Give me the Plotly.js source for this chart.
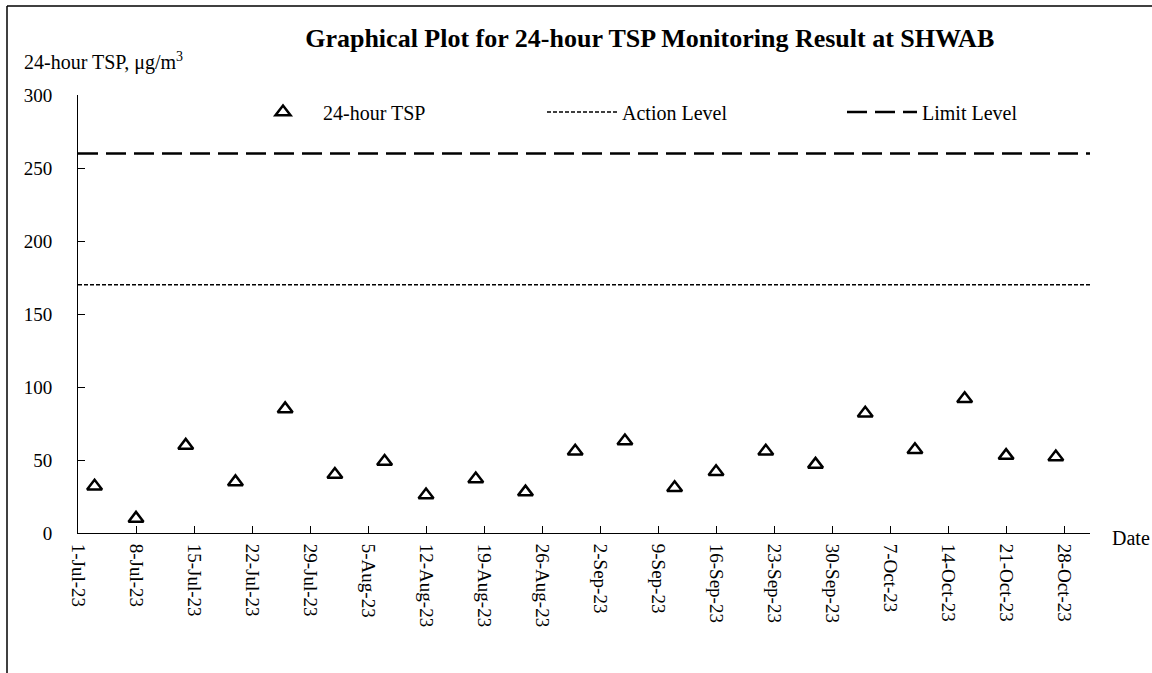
<!DOCTYPE html>
<html><head><meta charset="utf-8">
<script src="https://cdn.plot.ly/plotly-3.0.1.min.js"></script>
<style>html,body{margin:0;padding:0;background:#fff}#chart{width:1152px;height:673px}</style>
</head><body><div id="chart"></div>
<script>
const dates = ['2023-07-03','2023-07-08','2023-07-14','2023-07-20','2023-07-26','2023-08-01','2023-08-07','2023-08-12','2023-08-18','2023-08-24','2023-08-30','2023-09-05','2023-09-11','2023-09-16','2023-09-22','2023-09-28','2023-10-04','2023-10-10','2023-10-16','2023-10-21','2023-10-27'];
const tsp = [32,10,60,35,85,40,49,26,37,28,56,63,31,42,56,47,82,57,92,53,52];
const actionLevel = 170;
const limitLevel = 260;
const xRange = ['2023-07-01','2023-10-31 03:00'];
const seriesNames = ['24-hour TSP','Action Level','Limit Level'];

const FONT = 'Liberation Serif, Times New Roman, serif';

const traces = [
  {x: dates, y: tsp, type:'scatter', mode:'markers', name: seriesNames[0], legend:'legend',
   marker:{symbol:'triangle-up-open', size:13, color:'#000', line:{width:2.5, color:'#000'}}},
  {x: xRange, y: [actionLevel, actionLevel], type:'scatter', mode:'lines', name: seriesNames[1], legend:'legend2',
   line:{color:'#000', width:1.5, dash:'4px,2px'}},
  {x: xRange, y: [limitLevel, limitLevel], type:'scatter', mode:'lines', name: seriesNames[2], legend:'legend3',
   line:{color:'#000', width:2.5, dash:'20px,8px'}}
];

const legBase = {orientation:'h', xanchor:'left', yanchor:'middle', bgcolor:'rgba(0,0,0,0)', font:{family:FONT, size:20, color:'#000'}};
const PW = 1012, PH = 438, L = 78, T = 95;
function px(xp){return (xp - L)/PW;}
function py(yp){return (T + PH - yp)/PH;}

const layout = {
  width:1152, height:673,
  margin:{l:L, r:1152-L-PW, t:T, b:673-T-PH, pad:0},
  paper_bgcolor:'#fff', plot_bgcolor:'#fff',
  font:{family:FONT, size:19, color:'#000'},
  title:{text:'<b>Graphical Plot for 24-hour TSP Monitoring Result at SHWAB</b>', font:{family:FONT, size:26, color:'#000'}, x:0.564, xanchor:'center', y:0.943, yanchor:'middle'},
  showlegend:true,
  legend: Object.assign({}, legBase, {x:px(243), y:py(112), itemwidth:70}),
  legend2: Object.assign({}, legBase, {x:px(542), y:py(112), itemwidth:70}),
  legend3: Object.assign({}, legBase, {x:px(842), y:py(112), itemwidth:70}),
  xaxis:{type:'date', range:xRange, tick0:'2023-07-01', dtick:7*86400000, tickformat:'%-d-%b-%y', tickangle:90,
    ticks:'inside', ticklen:7, tickcolor:'#000', tickwidth:1, showline:true, linecolor:'#000', linewidth:1,
    showgrid:false, zeroline:false, tickfont:{family:FONT, size:19, color:'#000'}, ticklabelstandoff:6},
  yaxis:{range:[0,300], dtick:50, ticks:'inside', ticklen:7, tickcolor:'#000', tickwidth:1, showline:true, linecolor:'#000', linewidth:1,
    showgrid:false, zeroline:false, tickfont:{family:FONT, size:19, color:'#000'}, ticklabelstandoff:21},
  annotations:[
    {text:'24-hour TSP, μg/m<sup>3</sup>', xref:'paper', yref:'paper', x:px(22), y:py(62), xanchor:'left', yanchor:'middle', showarrow:false, font:{family:FONT, size:20, color:'#000'}},
    {text:'Date', xref:'paper', yref:'paper', x:px(1110), y:py(538), xanchor:'left', yanchor:'middle', showarrow:false, font:{family:FONT, size:20, color:'#000'}}
  ],
  shapes:[
    {type:'line', xref:'paper', yref:'paper', x0:px(7), x1:px(7), y0:py(6), y1:py(700), line:{color:'#000', width:1.5}},
    {type:'line', xref:'paper', yref:'paper', x0:px(7), x1:px(1160), y0:py(6), y1:py(6), line:{color:'#000', width:1.5}}
  ]
};

Plotly.newPlot('chart', traces, layout, {displayModeBar:false, staticPlot:true});
</script></body></html>
